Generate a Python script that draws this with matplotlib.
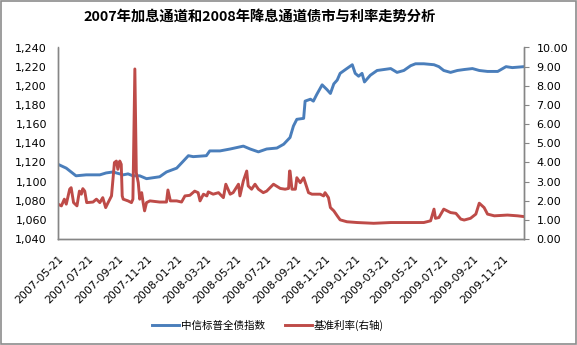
import matplotlib
matplotlib.use("Agg")
import matplotlib.pyplot as plt
import matplotlib.transforms as mtransforms
import pandas as pd
from matplotlib.patches import Rectangle

plt.rcParams['font.family'] = ['DejaVu Sans']
CJK = ['Noto Sans CJK SC', 'DejaVu Sans']

# 中信标普全债指数 (left axis)
bond_dates = [
    "2007-05-21", "2007-06-07", "2007-06-27", "2007-07-18", "2007-08-15", "2007-08-28",
    "2007-09-11", "2007-10-02", "2007-10-12", "2007-10-22", "2007-11-05", "2007-11-19",
    "2007-12-16", "2007-12-30", "2008-01-20", "2008-02-02", "2008-02-13", "2008-02-23",
    "2008-03-21", "2008-03-28", "2008-04-18", "2008-05-09", "2008-06-05", "2008-06-19",
    "2008-07-06", "2008-07-23", "2008-08-13", "2008-08-27", "2008-09-09", "2008-09-16",
    "2008-09-23", "2008-10-07", "2008-10-10", "2008-10-21", "2008-10-27", "2008-11-03",
    "2008-11-14", "2008-11-24", "2008-12-01", "2008-12-08", "2008-12-15", "2008-12-21",
    "2009-01-01", "2009-01-15", "2009-01-21", "2009-01-28", "2009-02-04", "2009-02-09",
    "2009-02-21", "2009-03-07", "2009-03-21", "2009-04-04", "2009-04-17", "2009-05-01",
    "2009-05-15", "2009-05-25", "2009-06-11", "2009-07-02", "2009-07-12", "2009-07-22",
    "2009-08-05", "2009-08-19", "2009-09-02", "2009-09-19", "2009-10-03", "2009-10-20",
    "2009-11-10", "2009-11-27", "2009-12-10", "2010-01-03",
]
bond_index = [
    1118, 1114, 1106, 1107, 1107, 1109,
    1110, 1107, 1108, 1106, 1106, 1103,
    1105, 1110, 1114, 1121, 1127, 1126,
    1127, 1132, 1132, 1134, 1137, 1134,
    1131, 1134, 1135, 1139, 1146, 1158,
    1165, 1166, 1184, 1186, 1184, 1191,
    1201, 1196, 1192, 1202, 1206, 1213,
    1217, 1222, 1213, 1210, 1213, 1204,
    1211, 1216, 1217, 1218, 1214, 1216,
    1221, 1223, 1223, 1222, 1220, 1216,
    1214, 1216, 1217, 1218, 1216, 1215,
    1215, 1220, 1219, 1220,
]

# 基准利率 (right axis, %)
rate_dates = [
    "2007-05-21", "2007-05-28", "2007-06-03", "2007-06-07", "2007-06-14", "2007-06-17",
    "2007-06-22", "2007-06-29", "2007-07-04", "2007-07-08", "2007-07-11", "2007-07-15",
    "2007-07-19", "2007-08-01", "2007-08-08", "2007-08-15", "2007-08-21", "2007-08-27",
    "2007-09-01", "2007-09-08", "2007-09-14", "2007-09-18", "2007-09-21", "2007-09-25",
    "2007-09-28", "2007-09-30", "2007-10-02", "2007-10-12", "2007-10-19", "2007-10-22",
    "2007-10-26", "2007-10-29", "2007-11-02", "2007-11-05", "2007-11-09", "2007-11-12",
    "2007-11-15", "2007-11-19", "2007-11-26", "2007-12-16", "2007-12-30", "2008-01-02",
    "2008-01-07", "2008-01-20", "2008-01-30", "2008-02-06", "2008-02-16", "2008-02-26",
    "2008-03-04", "2008-03-08", "2008-03-15", "2008-03-22", "2008-03-25", "2008-04-04",
    "2008-04-15", "2008-04-25", "2008-04-30", "2008-05-09", "2008-05-15", "2008-05-26",
    "2008-05-29", "2008-06-05", "2008-06-12", "2008-06-15", "2008-06-22", "2008-06-29",
    "2008-07-06", "2008-07-16", "2008-07-23", "2008-08-06", "2008-08-20", "2008-08-30",
    "2008-09-06", "2008-09-08", "2008-09-09", "2008-09-13", "2008-09-20", "2008-09-23",
    "2008-09-30", "2008-10-07", "2008-10-17", "2008-10-24", "2008-11-10", "2008-11-17",
    "2008-11-20", "2008-11-27", "2008-12-01", "2008-12-08", "2008-12-15", "2008-12-21",
    "2009-01-04", "2009-01-25", "2009-02-28", "2009-04-04", "2009-05-08", "2009-06-11",
    "2009-06-25", "2009-07-02", "2009-07-05", "2009-07-12", "2009-07-22", "2009-07-29",
    "2009-08-05", "2009-08-16", "2009-08-26", "2009-09-02", "2009-09-15", "2009-09-26",
    "2009-10-03", "2009-10-13", "2009-10-20", "2009-11-03", "2009-11-30", "2009-12-21",
    "2010-01-03",
]
base_rate = [
    1.82, 1.73, 2.08, 1.82, 2.60, 2.68,
    1.90, 1.73, 2.50, 2.34, 2.63, 2.50,
    1.90, 1.93, 2.08, 1.90, 2.16, 1.64,
    1.90, 2.25, 3.99, 4.07, 3.64, 4.07,
    3.90, 2.25, 2.08, 1.99, 1.90, 2.08,
    8.88, 3.46, 2.94, 2.08, 2.42, 1.90,
    1.47, 1.90, 1.99, 1.93, 1.93, 2.56,
    1.99, 1.99, 1.93, 2.25, 2.28, 2.50,
    2.42, 1.99, 2.34, 2.25, 2.46, 2.34,
    2.42, 2.16, 2.86, 2.34, 2.42, 2.86,
    2.25, 3.03, 3.55, 2.77, 2.60, 2.86,
    2.60, 2.42, 2.50, 2.86, 2.64, 2.60,
    2.64, 3.55, 3.55, 2.60, 2.60, 3.20,
    2.94, 3.20, 2.42, 2.34, 2.34, 2.25,
    2.42, 2.16, 1.64, 1.47, 1.21, 1.00,
    0.90, 0.86, 0.82, 0.86, 0.86, 0.86,
    0.95, 1.56, 1.08, 1.12, 1.56, 1.47,
    1.38, 1.34, 1.04, 0.99, 1.08, 1.30,
    1.87, 1.64, 1.30, 1.21, 1.25, 1.21,
    1.17,
]

left_ticks = list(range(1040, 1241, 20))
right_ticks = [float(v) for v in range(0, 11)]
x_tick_labels = [
    "2007-05-21", "2007-07-21", "2007-09-21", "2007-11-21",
    "2008-01-21", "2008-03-21", "2008-05-21", "2008-07-21", "2008-09-21", "2008-11-21",
    "2009-01-21", "2009-03-21", "2009-05-21", "2009-07-21", "2009-09-21", "2009-11-21",
]

BLUE = "#4A7EBB"
RED = "#BE4B48"
AXIS_GREY = "#868686"

fig = plt.figure(figsize=(5.77, 3.45), dpi=100)
ax = fig.add_axes([58 / 577, 1 - 239 / 345, (524 - 58) / 577, (239 - 47.5) / 345])
ax2 = ax.twinx()

bx = pd.to_datetime(bond_dates)
rx = pd.to_datetime(rate_dates)
l1, = ax.plot(bx, bond_index, color=BLUE, lw=2.1, solid_joinstyle="round")
l2, = ax2.plot(rx, base_rate, color=RED, lw=2.1, solid_joinstyle="round")

ax.set_xlim(pd.Timestamp("2007-05-21"), pd.Timestamp("2010-01-03"))
ax.set_ylim(1040, 1240)
ax2.set_ylim(0, 10)
ax.set_yticks(left_ticks)
ax.set_yticklabels([f"{v:,}" for v in left_ticks], fontsize=8)
ax2.set_yticks(right_ticks)
ax2.set_yticklabels([f"{v:.2f}" for v in right_ticks], fontsize=8)

ax.set_xticks(pd.to_datetime(x_tick_labels))
ax.set_xticklabels(x_tick_labels, fontsize=7.8,
                   rotation=45, ha="right", va="top", rotation_mode="anchor")
shift = mtransforms.ScaledTranslation(4 / 100, 0, fig.dpi_scale_trans)
for lbl in ax.get_xticklabels():
    lbl.set_transform(lbl.get_transform() + shift)

for a in (ax, ax2):
    a.spines["top"].set_visible(False)
    for s in ("left", "right", "bottom"):
        a.spines[s].set_color(AXIS_GREY)
        a.spines[s].set_linewidth(1.0)
ax.tick_params(axis="y", length=0, pad=8)
ax.tick_params(axis="x", length=0, pad=10.5)
ax2.tick_params(axis="y", length=3.5, color=AXIS_GREY, pad=5.5)

fig.text(260 / 577, 1 - 17 / 345, "2007年加息通道和2008年降息通道债市与利率走势分析",
         ha="center", va="center", fontsize=10.3, fontweight="bold", family=CJK)

fig.legend([l1, l2], ["中信标普全债指数", "基准利率(右轴)"], loc="center",
           bbox_to_anchor=(268 / 577, 1 - 325 / 345), ncol=2, frameon=False,
           prop={"family": CJK, "size": 7.6}, handlelength=2.6, columnspacing=1.8,
           handletextpad=0.2)

fig.add_artist(Rectangle((0.001, 0.002), 0.997, 0.996, transform=fig.transFigure,
                         fill=False, edgecolor="#8C8C8C", linewidth=1.2))

fig.savefig("out.png", dpi=100)
